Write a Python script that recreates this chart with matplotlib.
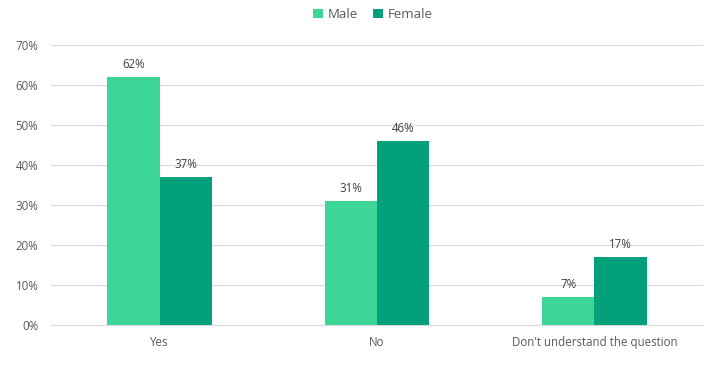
import matplotlib
matplotlib.use("Agg")
import matplotlib.pyplot as plt
import numpy as np
from matplotlib.ticker import FuncFormatter

categories = ["Yes", "No", "Don't understand the question"]
male = [62, 31, 7]
female = [37, 46, 17]
series_names = ["Male", "Female"]
colors = ["#3ed696", "#04a07c"]

plt.rcParams['font.family'] = ['Open Sans', 'DejaVu Sans']
text_color = "#595959"

fig = plt.figure(figsize=(7.17, 3.67), dpi=100)
ax = fig.add_axes([0.0711, 0.1144, 0.9094, 0.763])

x = np.arange(len(categories))
w = 0.24
b1 = ax.bar(x - w/2, male, w, color=colors[0], label=series_names[0], zorder=3)
b2 = ax.bar(x + w/2, female, w, color=colors[1], label=series_names[1], zorder=3)

for bars, vals in ((b1, male), (b2, female)):
    for rect, v in zip(bars, vals):
        ax.annotate(f"{v}%", (rect.get_x() + rect.get_width()/2, rect.get_height()),
                    xytext=(0, 4), textcoords="offset points", ha="center", va="bottom",
                    fontsize=8.3, color="#404040")

ax.set_xlim(-0.5, 2.5)
ax.set_ylim(0, 70)
ax.set_yticks(range(0, 71, 10))
ax.yaxis.set_major_formatter(FuncFormatter(lambda v, p: f"{int(v)}%"))
ax.set_xticks(x)
ax.set_xticklabels(categories)
ax.tick_params(axis='both', length=0, labelsize=8.3, colors=text_color)
ax.tick_params(axis='y', pad=9)
ax.tick_params(axis='x', pad=8)
ax.grid(axis='y', color="#d9d9d9", linewidth=0.8, zorder=0)
for s in ["top", "right", "left"]:
    ax.spines[s].set_visible(False)
ax.spines["bottom"].set_color("#d9d9d9")
ax.spines["bottom"].set_linewidth(0.8)

fig.legend(handles=[b1, b2], loc="upper center", bbox_to_anchor=(0.52, 1.01), ncol=2,
           frameon=False, fontsize=9.5, handlelength=0.75, handleheight=0.75,
           handletextpad=0.35, columnspacing=1.2, labelcolor=text_color)

fig.savefig("out.png", dpi=100)
